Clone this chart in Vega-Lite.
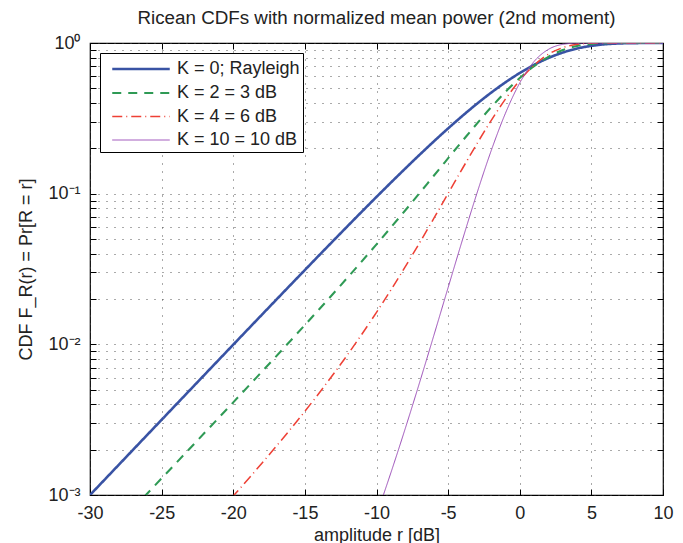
{
  "$schema": "https://vega.github.io/schema/vega-lite/v6.json",
  "width": 573,
  "height": 452,
  "autosize": {"type": "none"},
  "padding": {"left": 90, "top": 43, "right": 20, "bottom": 48},
  "background": "white",
  "title": {"text": "Ricean CDFs with normalized mean power (2nd moment)", "fontSize": 18.8, "fontWeight": "normal", "font": "Liberation Sans", "offset": 6, "color": "#222222"},
  "config": {
    "view": {"stroke": "#000000", "strokeWidth": 1.2},
    "font": "Liberation Sans",
    "axis": {
      "labelFont": "Liberation Sans", "titleFont": "Liberation Sans",
      "labelFontSize": 18, "titleFontSize": 18, "titleFontWeight": "normal",
      "labelColor": "#222222", "titleColor": "#222222",
      "domain": false, "tickColor": "#000000", "tickWidth": 1, "tickSize": -6,
      "gridColor": "#444444", "gridDash": [1, 7], "gridWidth": 1, "gridOpacity": 0.9,
      "labelOverlap": false, "labelBound": false, "labelFlush": false
    },
    "legend": {
      "strokeColor": "#000000", "fillColor": "#ffffff", "padding": 3, "cornerRadius": 0,
      "labelFont": "Liberation Sans", "labelFontSize": 18, "labelColor": "#222222",
      "symbolType": "M-2.5,0L2.5,0", "symbolSize": 529, "symbolOffset": 25, "labelOffset": 23, "rowPadding": 2
    }
  },
  "data": {"values": [
    {"series": "K = 0; Rayleigh", "x": -30, "F": 0.0009995},
    {"series": "K = 0; Rayleigh", "x": -28, "F": 0.0015836},
    {"series": "K = 0; Rayleigh", "x": -26, "F": 0.0025087},
    {"series": "K = 0; Rayleigh", "x": -24, "F": 0.0039732},
    {"series": "K = 0; Rayleigh", "x": -22, "F": 0.0062897},
    {"series": "K = 0; Rayleigh", "x": -20, "F": 0.0099502},
    {"series": "K = 0; Rayleigh", "x": -18, "F": 0.015724},
    {"series": "K = 0; Rayleigh", "x": -16, "F": 0.024806},
    {"series": "K = 0; Rayleigh", "x": -14, "F": 0.039029},
    {"series": "K = 0; Rayleigh", "x": -12, "F": 0.061147},
    {"series": "K = 0; Rayleigh", "x": -10, "F": 0.095163},
    {"series": "K = 0; Rayleigh", "x": -9, "F": 0.118292},
    {"series": "K = 0; Rayleigh", "x": -8, "F": 0.146566},
    {"series": "K = 0; Rayleigh", "x": -7, "F": 0.180881},
    {"series": "K = 0; Rayleigh", "x": -6, "F": 0.222149},
    {"series": "K = 0; Rayleigh", "x": -5, "F": 0.271107},
    {"series": "K = 0; Rayleigh", "x": -4, "F": 0.328407},
    {"series": "K = 0; Rayleigh", "x": -3, "F": 0.394192},
    {"series": "K = 0; Rayleigh", "x": -2, "F": 0.467876},
    {"series": "K = 0; Rayleigh", "x": -1, "F": 0.548109},
    {"series": "K = 0; Rayleigh", "x": 0, "F": 0.632121},
    {"series": "K = 0; Rayleigh", "x": 1, "F": 0.716047},
    {"series": "K = 0; Rayleigh", "x": 2, "F": 0.79502},
    {"series": "K = 0; Rayleigh", "x": 3, "F": 0.864022},
    {"series": "K = 0; Rayleigh", "x": 4, "F": 0.918893},
    {"series": "K = 0; Rayleigh", "x": 5, "F": 0.957671},
    {"series": "K = 0; Rayleigh", "x": 6, "F": 0.981336},
    {"series": "K = 0; Rayleigh", "x": 7, "F": 0.993346},
    {"series": "K = 0; Rayleigh", "x": 8, "F": 0.998183},
    {"series": "K = 0; Rayleigh", "x": 9, "F": 0.999645},
    {"series": "K = 0; Rayleigh", "x": 10, "F": 0.9999546},
    {"series": "K = 2 = 3 dB", "x": -27, "F": 0.0008125},
    {"series": "K = 2 = 3 dB", "x": -26, "F": 0.0010237},
    {"series": "K = 2 = 3 dB", "x": -24, "F": 0.0016259},
    {"series": "K = 2 = 3 dB", "x": -22, "F": 0.002586},
    {"series": "K = 2 = 3 dB", "x": -20, "F": 0.0041203},
    {"series": "K = 2 = 3 dB", "x": -18, "F": 0.0065855},
    {"series": "K = 2 = 3 dB", "x": -16, "F": 0.010573},
    {"series": "K = 2 = 3 dB", "x": -14, "F": 0.01709},
    {"series": "K = 2 = 3 dB", "x": -12, "F": 0.027891},
    {"series": "K = 2 = 3 dB", "x": -10, "F": 0.046098},
    {"series": "K = 2 = 3 dB", "x": -8, "F": 0.07733},
    {"series": "K = 2 = 3 dB", "x": -6, "F": 0.131437},
    {"series": "K = 2 = 3 dB", "x": -4, "F": 0.224138},
    {"series": "K = 2 = 3 dB", "x": -2, "F": 0.37417},
    {"series": "K = 2 = 3 dB", "x": -1, "F": 0.47343},
    {"series": "K = 2 = 3 dB", "x": 0, "F": 0.585294},
    {"series": "K = 2 = 3 dB", "x": 1, "F": 0.70163},
    {"series": "K = 2 = 3 dB", "x": 2, "F": 0.810127},
    {"series": "K = 2 = 3 dB", "x": 3, "F": 0.897537},
    {"series": "K = 2 = 3 dB", "x": 4, "F": 0.955654},
    {"series": "K = 2 = 3 dB", "x": 5, "F": 0.9855},
    {"series": "K = 2 = 3 dB", "x": 6, "F": 0.9966},
    {"series": "K = 2 = 3 dB", "x": 7, "F": 0.99955},
    {"series": "K = 2 = 3 dB", "x": 8, "F": 0.99996},
    {"series": "K = 2 = 3 dB", "x": 9, "F": 0.999998},
    {"series": "K = 2 = 3 dB", "x": 10, "F": 1.0},
    {"series": "K = 4 = 6 dB", "x": -21, "F": 0.000771},
    {"series": "K = 4 = 6 dB", "x": -20, "F": 0.000985},
    {"series": "K = 4 = 6 dB", "x": -18, "F": 0.0016254},
    {"series": "K = 4 = 6 dB", "x": -16, "F": 0.0027393},
    {"series": "K = 4 = 6 dB", "x": -14, "F": 0.0047557},
    {"series": "K = 4 = 6 dB", "x": -12, "F": 0.0085912},
    {"series": "K = 4 = 6 dB", "x": -10, "F": 0.0163016},
    {"series": "K = 4 = 6 dB", "x": -8, "F": 0.0326356},
    {"series": "K = 4 = 6 dB", "x": -6, "F": 0.068491},
    {"series": "K = 4 = 6 dB", "x": -4, "F": 0.14691},
    {"series": "K = 4 = 6 dB", "x": -2, "F": 0.305414},
    {"series": "K = 4 = 6 dB", "x": -1, "F": 0.42421},
    {"series": "K = 4 = 6 dB", "x": 0, "F": 0.564929},
    {"series": "K = 4 = 6 dB", "x": 1, "F": 0.712107},
    {"series": "K = 4 = 6 dB", "x": 2, "F": 0.841851},
    {"series": "K = 4 = 6 dB", "x": 3, "F": 0.931},
    {"series": "K = 4 = 6 dB", "x": 4, "F": 0.98},
    {"series": "K = 4 = 6 dB", "x": 5, "F": 0.9963},
    {"series": "K = 4 = 6 dB", "x": 6, "F": 0.9996},
    {"series": "K = 4 = 6 dB", "x": 7, "F": 0.99998},
    {"series": "K = 4 = 6 dB", "x": 8, "F": 1.0},
    {"series": "K = 4 = 6 dB", "x": 10, "F": 1.0},
    {"series": "K = 10 = 10 dB", "x": -10, "F": 0.000739},
    {"series": "K = 10 = 10 dB", "x": -9.5, "F": 0.001013},
    {"series": "K = 10 = 10 dB", "x": -9, "F": 0.0014012},
    {"series": "K = 10 = 10 dB", "x": -8, "F": 0.0027484},
    {"series": "K = 10 = 10 dB", "x": -7, "F": 0.0055465},
    {"series": "K = 10 = 10 dB", "x": -6, "F": 0.0114336},
    {"series": "K = 10 = 10 dB", "x": -5, "F": 0.0238124},
    {"series": "K = 10 = 10 dB", "x": -4, "F": 0.0493652},
    {"series": "K = 10 = 10 dB", "x": -3, "F": 0.0998478},
    {"series": "K = 10 = 10 dB", "x": -2, "F": 0.1921421},
    {"series": "K = 10 = 10 dB", "x": -1, "F": 0.341461},
    {"series": "K = 10 = 10 dB", "x": 0, "F": 0.5431},
    {"series": "K = 10 = 10 dB", "x": 1, "F": 0.753933},
    {"series": "K = 10 = 10 dB", "x": 2, "F": 0.907},
    {"series": "K = 10 = 10 dB", "x": 3, "F": 0.979},
    {"series": "K = 10 = 10 dB", "x": 4, "F": 0.998},
    {"series": "K = 10 = 10 dB", "x": 5, "F": 0.9999},
    {"series": "K = 10 = 10 dB", "x": 6, "F": 1.0},
    {"series": "K = 10 = 10 dB", "x": 10, "F": 1.0}
  ]},
  "layer": [
    {
      "mark": {"type": "line", "clip": true, "interpolate": "monotone"},
      "encoding": {
        "x": {"field": "x", "type": "quantitative",
          "scale": {"domain": [-30, 10], "nice": false, "zero": false},
          "axis": {"title": "amplitude r [dB]", "values": [-30, -25, -20, -15, -10, -5, 0, 5, 10], "grid": true, "labelPadding": 15, "titlePadding": 4, "labelExpr": "toString(datum.value)"}},
        "y": {"field": "F", "type": "quantitative",
          "scale": {"type": "log", "domain": [0.001, 1], "nice": false},
          "axis": {"title": "CDF F_R(r) = Pr[R = r]", "grid": true, "labelPadding": 16, "titlePadding": 12,
            "values": [0.001, 0.002, 0.003, 0.004, 0.005, 0.006, 0.007, 0.008, 0.009, 0.01, 0.02, 0.03, 0.04, 0.05, 0.06, 0.07, 0.08, 0.09, 0.1, 0.2, 0.3, 0.4, 0.5, 0.6, 0.7, 0.8, 0.9, 1],
            "labelExpr": "datum.value >= 0.999 ? '10⁰' : abs(datum.value - 0.1) < 1e-9 ? '10⁻¹' : abs(datum.value - 0.01) < 1e-9 ? '10⁻²' : abs(datum.value - 0.001) < 1e-9 ? '10⁻³' : ''"}},
        "color": {"field": "series", "type": "nominal",
          "scale": {"domain": ["K = 0; Rayleigh", "K = 2 = 3 dB", "K = 4 = 6 dB", "K = 10 = 10 dB"], "range": ["#3953a4", "#2f9a55", "#ee4035", "#9b4db8"]},
          "legend": {"title": null, "orient": "top-left", "offset": 10}},
        "strokeDash": {"field": "series", "type": "nominal",
          "scale": {"domain": ["K = 0; Rayleigh", "K = 2 = 3 dB", "K = 4 = 6 dB", "K = 10 = 10 dB"], "range": [[1, 0], [9, 7], [10, 4, 1, 4], [1, 0]]},
          "legend": {"title": null, "orient": "top-left", "offset": 10}},
        "strokeWidth": {"field": "series", "type": "nominal",
          "scale": {"domain": ["K = 0; Rayleigh", "K = 2 = 3 dB", "K = 4 = 6 dB", "K = 10 = 10 dB"], "range": [2.6, 1, 1, 1]},
          "legend": {"title": null, "orient": "top-left", "offset": 10}}
      }
    },
    {
      "mark": {"type": "line", "strokeOpacity": 0, "clip": true},
      "encoding": {
        "x": {"field": "x", "type": "quantitative",
          "scale": {"domain": [-30, 10], "nice": false, "zero": false},
          "axis": {"orient": "top", "title": null, "labels": false, "grid": false, "values": [-30, -25, -20, -15, -10, -5, 0, 5, 10]}},
        "y": {"field": "F", "type": "quantitative",
          "scale": {"type": "log", "domain": [0.001, 1], "nice": false},
          "axis": {"orient": "right", "title": null, "labels": false, "grid": false,
            "values": [0.001, 0.002, 0.003, 0.004, 0.005, 0.006, 0.007, 0.008, 0.009, 0.01, 0.02, 0.03, 0.04, 0.05, 0.06, 0.07, 0.08, 0.09, 0.1, 0.2, 0.3, 0.4, 0.5, 0.6, 0.7, 0.8, 0.9, 1]}},
        "detail": {"field": "series", "type": "nominal"}
      }
    }
  ],
  "resolve": {"axis": {"x": "independent", "y": "independent"}}
}
